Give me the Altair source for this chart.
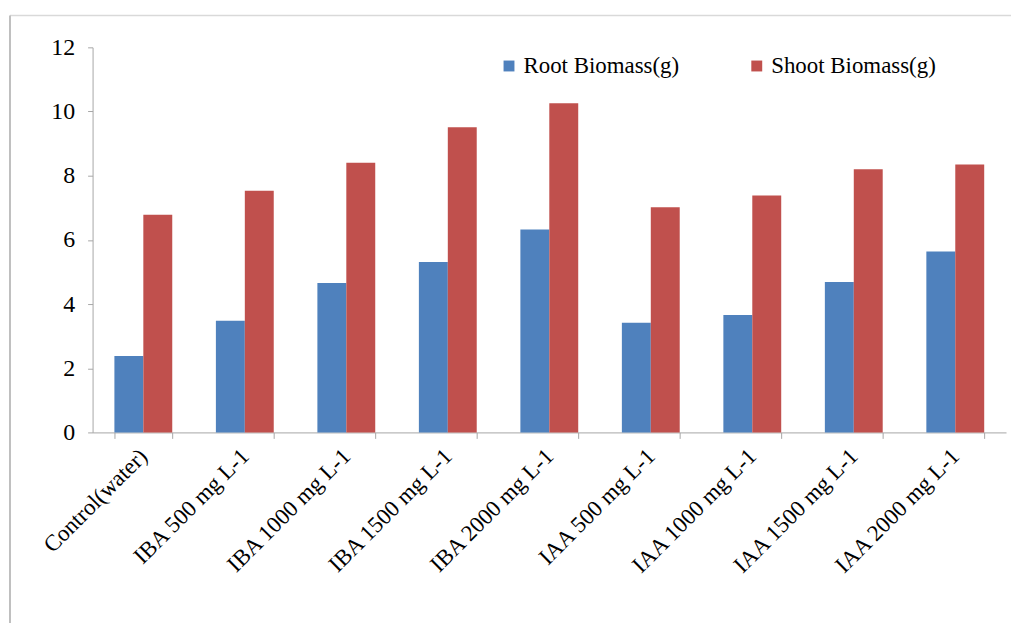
import altair as alt
import pandas as pd

categories = ["Control(water)", "IBA 500 mg L-1", "IBA 1000 mg L-1", "IBA 1500 mg L-1",
              "IBA 2000 mg L-1", "IAA 500 mg L-1", "IAA 1000 mg L-1", "IAA 1500 mg L-1",
              "IAA 2000 mg L-1"]
root = [2.38, 3.48, 4.66, 5.31, 6.32, 3.42, 3.66, 4.69, 5.64]
shoot = [6.78, 7.53, 8.40, 9.51, 10.26, 7.02, 7.38, 8.20, 8.35]
series = ["Root Biomass(g)", "Shoot Biomass(g)"]
colors = ["#4F81BD", "#C0504D"]
y_ticks = [0, 2, 4, 6, 8, 10, 12]

rows = []
for c, r, s in zip(categories, root, shoot):
    rows.append({"cat": c, "series": series[0], "value": r})
    rows.append({"cat": c, "series": series[1], "value": s})
df = pd.DataFrame(rows)

W, H = 918, 387

bars = alt.Chart(df).mark_bar().encode(
    x=alt.X("cat:N", sort=categories, title=None,
            scale=alt.Scale(paddingInner=0.43, paddingOuter=0.215),
            axis=alt.Axis(labelAngle=-45, labelFont="Liberation Serif",
                          labelFontSize=23, labelColor="#000000", domainColor="#A6A6A6",
                          tickColor="#A6A6A6", tickBand="extent", tickSize=6,
                          labelPadding=14, labelAlign="right", labelBaseline="middle")),
    xOffset=alt.XOffset("series:N", sort=series),
    y=alt.Y("value:Q", title=None,
            scale=alt.Scale(domain=[0, 12], nice=False),
            axis=alt.Axis(values=y_ticks, grid=False, labelFont="Liberation Serif",
                          labelFontSize=24, labelColor="#000000", domainColor="#A6A6A6",
                          tickColor="#A6A6A6", tickSize=5, labelPadding=13)),
    color=alt.Color("series:N", sort=series,
                    scale=alt.Scale(domain=series, range=colors),
                    legend=alt.Legend(title=None, orient="none", legendX=407, legendY=7,
                                      direction="horizontal", symbolType="square",
                                      symbolSize=120, symbolStrokeWidth=0,
                                      labelFont="Liberation Serif", labelFontSize=23,
                                      labelColor="#000000", columnPadding=66,
                                      labelOffset=3, labelLimit=300)),
)

frame_top = alt.Chart(pd.DataFrame({"k": [0]})).mark_rule(color="#D9D9D9", strokeWidth=1.5).encode(
    x=alt.value(-83), x2=alt.value(926), y=alt.value(-32))
frame_left = alt.Chart(pd.DataFrame({"k": [0]})).mark_rule(color="#BFBFBF", strokeWidth=2).encode(
    x=alt.value(-83), y=alt.value(-32), y2=alt.value(590))

chart = alt.layer(frame_top, frame_left, bars).properties(
    width=W, height=H,
    autosize=alt.AutoSizeParams(type="none"),
    padding={"left": 85, "top": 38, "right": 5, "bottom": 190},
    background="#FFFFFF",
).configure_view(stroke=None)

chart.save("out.html", embed_options={"renderer": "svg", "actions": False})
